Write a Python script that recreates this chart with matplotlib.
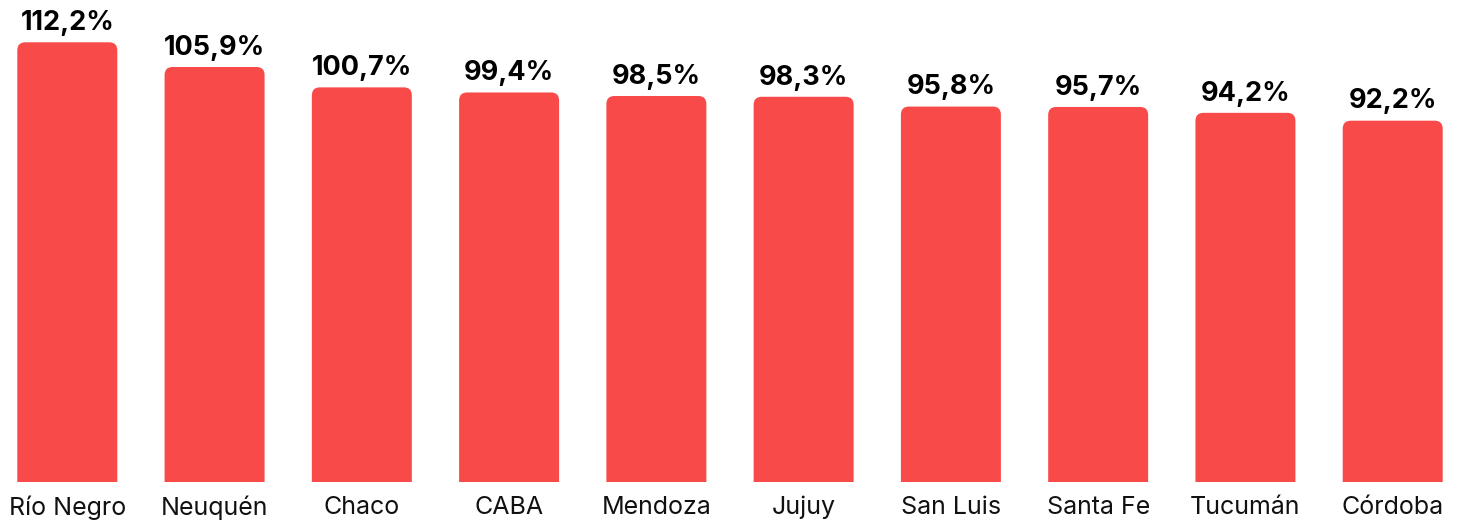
import matplotlib
matplotlib.use("Agg")
import matplotlib.pyplot as plt
from matplotlib.patches import FancyBboxPatch

# datos
provincias = ["Río Negro", "Neuquén", "Chaco", "CABA", "Mendoza", "Jujuy",
              "San Luis", "Santa Fe", "Tucumán", "Córdoba"]
valores = [112.2, 105.9, 100.7, 99.4, 98.5, 98.3, 95.8, 95.7, 94.2, 92.2]
etiquetas = [f"{v:.1f}%".replace(".", ",") for v in valores]

color_barra = "#F94A4A"
W, H = 1461, 523
ancho = 0.679

fig = plt.figure(figsize=(W / 100, H / 100), dpi=100)
ax = fig.add_axes([17.3 / W, (H - 482) / H, (1442.7 - 17.3) / W, (482 - 42.3) / H])

x = range(len(provincias))
ax.set_xlim(-ancho / 2, len(provincias) - 1 + ancho / 2)
ax.set_ylim(0, max(valores))

# radio de esquinas en pixeles -> unidades de datos
px_x = (len(provincias) - 1 + ancho) / (1442.7 - 17.3)
px_y = max(valores) / (482 - 42.3)
r = 8 * px_x
aspecto = px_y / px_x
extra = 12 * px_y  # se extiende bajo la base y se recorta

for i, v in zip(x, valores):
    caja = FancyBboxPatch((i - ancho / 2, -extra), ancho, v + extra,
                          boxstyle=f"round,pad=0,rounding_size={r}",
                          mutation_aspect=aspecto, fc=color_barra, ec="none")
    ax.add_patch(caja)

for i, v, t in zip(x, valores, etiquetas):
    ax.annotate(t, (i, v), xytext=(0, 4.5), textcoords="offset points",
                ha="center", va="bottom", fontsize=19.5, fontweight="bold",
                family="Inter", color="black", annotation_clip=False)

ax.set_xticks(list(x))
ax.set_xticklabels(provincias, fontsize=18, family="Inter", color="#111111")
ax.tick_params(axis="x", length=0, pad=10)
ax.set_yticks([])
for s in ax.spines.values():
    s.set_visible(False)

fig.savefig("out.png", dpi=100, facecolor="white")
